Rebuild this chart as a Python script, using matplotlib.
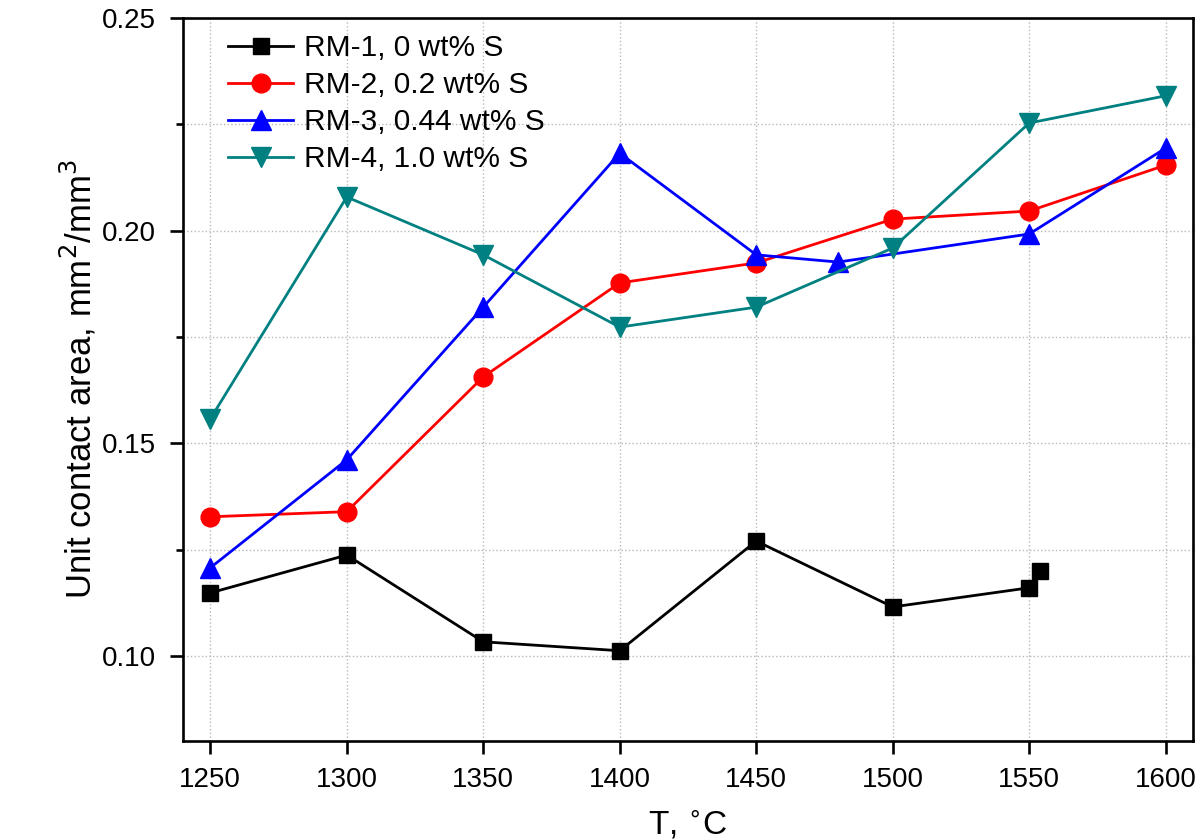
import matplotlib
matplotlib.use("Agg")
import matplotlib.pyplot as plt
from matplotlib.ticker import MultipleLocator, FormatStrFormatter

plt.rcParams['font.family'] = ['Liberation Sans', 'DejaVu Sans']

# RM-1, 0 wt% S
t1 = [1250, 1300, 1350, 1400, 1450, 1500, 1550, 1554]
a1 = [0.1148, 0.1237, 0.1033, 0.1012, 0.1270, 0.1115, 0.1160, 0.1200]
# RM-2, 0.2 wt% S
t2 = [1250, 1300, 1350, 1400, 1450, 1500, 1550, 1600]
a2 = [0.1327, 0.1339, 0.1656, 0.1877, 0.1924, 0.2027, 0.2046, 0.2154]
# RM-3, 0.44 wt% S
t3 = [1250, 1300, 1350, 1400, 1450, 1480, 1550, 1600]
a3 = [0.1207, 0.1461, 0.1820, 0.2182, 0.1943, 0.1926, 0.1992, 0.2194]
# RM-4, 1.0 wt% S
t4 = [1250, 1300, 1350, 1400, 1450, 1500, 1550, 1600]
a4 = [0.1557, 0.2079, 0.1943, 0.1773, 0.1820, 0.1959, 0.2253, 0.2317]

labels = ['RM-1, 0 wt% S', 'RM-2, 0.2 wt% S', 'RM-3, 0.44 wt% S', 'RM-4, 1.0 wt% S']
xticks = [1250, 1300, 1350, 1400, 1450, 1500, 1550, 1600]

fig = plt.figure(figsize=(11.99, 8.40), dpi=100)
ax = fig.add_axes([0.1526, 0.118, 0.8424, 0.8606])

ax.plot(t1, a1, color='black', marker='s', ms=12, lw=2.0, label=labels[0])
ax.plot(t2, a2, color='#ff0000', marker='o', ms=13.5, lw=2.0, label=labels[1])
ax.plot(t3, a3, color='#0000ff', marker='^', ms=15, lw=2.0, label=labels[2])
ax.plot(t4, a4, color='#008080', marker='v', ms=15, lw=2.0, label=labels[3])

ax.set_xlim(1240, 1610)
ax.set_ylim(0.08, 0.25)
ax.set_xticks(xticks)
ax.yaxis.set_major_locator(MultipleLocator(0.05))
ax.yaxis.set_minor_locator(MultipleLocator(0.025))
ax.yaxis.set_major_formatter(FormatStrFormatter('%.2f'))

ax.grid(True, which='major', color='#b8b8b8', linestyle=':', linewidth=1.0)
ax.grid(True, which='minor', axis='y', color='#b8b8b8', linestyle=':', linewidth=1.0)

for s in ax.spines.values():
    s.set_linewidth(1.9)
ax.tick_params(axis='both', which='major', direction='out', length=9.5, width=1.9,
               labelsize=20, pad=9)
ax.tick_params(axis='y', which='major', pad=10)
ax.tick_params(axis='y', which='minor', direction='out', length=5, width=1.9)

ax.set_xlabel('T, $^{\\circ}$C', fontsize=24, labelpad=12)
ax.set_ylabel('Unit contact area, mm$^2$/mm$^3$', fontsize=25, labelpad=2)

ax.legend(loc='upper left', fontsize=21.5, frameon=False, handlelength=2.2,
          borderaxespad=0.2, labelspacing=0.3, handletextpad=0.35,
          borderpad=0.35, bbox_to_anchor=(0.028, 1.0))

fig.savefig('out.png', dpi=100)
